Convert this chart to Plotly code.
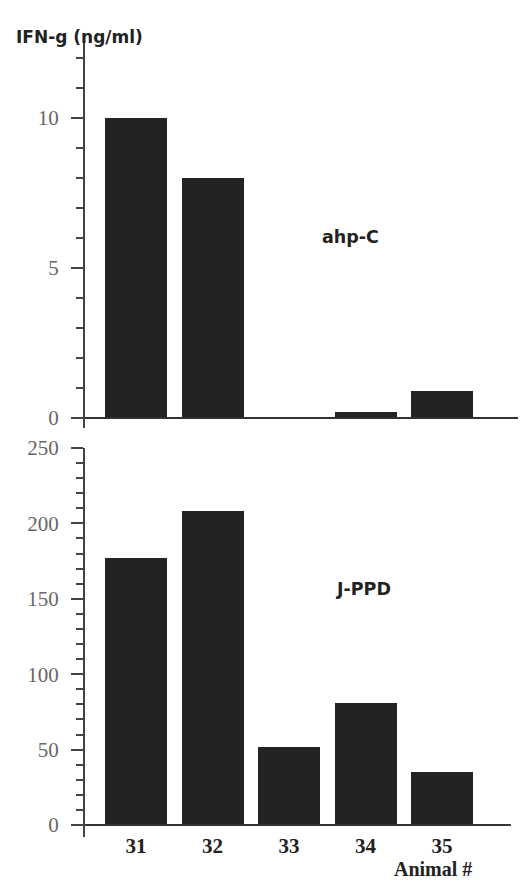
import plotly.graph_objects as go
from plotly.subplots import make_subplots

animals = [31, 32, 33, 34, 35]
tick_labels = ["31", "32", "33", "34", "35"]
ahp_c = [10.0, 8.0, 0.0, 0.2, 0.9]
j_ppd = [177, 208, 52, 81, 35]

W, H = 526, 882
ml, mr, mt, mb = 85, 8, 40, 45
ph = H - mt - mb

def fy(px):
    return (H - mb - px) / ph

fig = make_subplots(rows=2, cols=1, shared_xaxes=False, vertical_spacing=0.02)

bar_color = "#232323"
fig.add_trace(go.Bar(x=animals, y=ahp_c, width=0.81, marker=dict(color=bar_color, line=dict(width=0))), row=1, col=1)
fig.add_trace(go.Bar(x=animals, y=j_ppd, width=0.81, marker=dict(color=bar_color, line=dict(width=0))), row=2, col=1)

xr = [30.333, 35.993]
tickfont = dict(family="Liberation Serif", size=21, color="#666666")
axis_col = "#444444"

fig.update_layout(
    width=W, height=H, showlegend=False,
    margin=dict(l=ml, r=mr, t=mt, b=mb),
    paper_bgcolor="white", plot_bgcolor="white",
    bargap=0,
    xaxis=dict(domain=[0, 1], range=xr, showticklabels=False, showline=False, showgrid=False, zeroline=False, ticks=""),
    xaxis2=dict(domain=[0, 1], range=xr, tickvals=animals, ticktext=["<b>%s</b>" % t for t in tick_labels],
                showline=False, showgrid=False, zeroline=False, ticks="",
                anchor="free", position=fy(831),
                tickfont=dict(family="Liberation Serif", size=21, color="#222222"), ticklabelstandoff=0),
    yaxis=dict(domain=[fy(428), 1.0], range=[-0.333, 12.6], tick0=0, dtick=5, showgrid=False, zeroline=False,
               showline=True, linecolor=axis_col, linewidth=2, ticks="outside", ticklen=12, tickwidth=2,
               tickcolor=axis_col, tickfont=tickfont, ticklabelstandoff=8,
               minor=dict(tick0=0, dtick=1, ticks="outside", ticklen=7, tickwidth=1.5, tickcolor=axis_col)),
    yaxis2=dict(domain=[0, fy(448)], range=[-7.96, 250], tick0=0, dtick=50, showgrid=False,
                zeroline=False, showline=True, linecolor=axis_col, linewidth=2, ticks="outside", ticklen=12,
                tickwidth=2, tickcolor=axis_col, tickfont=tickfont, ticklabelstandoff=8,
                minor=dict(tick0=0, dtick=10, ticks="outside", ticklen=7, tickwidth=1.5, tickcolor=axis_col)),
)

# baseline (x axis) lines at y = 0
fig.add_shape(type="line", xref="x", yref="y", x0=xr[0], x1=xr[1], y0=0, y1=0,
              line=dict(color="#333333", width=2))
fig.add_shape(type="line", xref="x2", yref="y2", x0=xr[0], x1=35.9, y0=0, y1=0,
              line=dict(color="#333333", width=2))

lab_font = dict(family="DejaVu Sans", size=17.5, color="#222222")
fig.add_annotation(x=33.8, y=6.03, xref="x", yref="y", text="<b>ahp-C</b>", showarrow=False, font=lab_font)
fig.add_annotation(x=33.97, y=156.5, xref="x2", yref="y2", text="<b>J-PPD</b>", showarrow=False, font=lab_font)
fig.add_annotation(x=(14 - ml) / (W - ml - mr), y=fy(25), xref="paper", yref="paper", xanchor="left",
                   text="<b>IFN-g (ng/ml)</b>", showarrow=False,
                   font=dict(family="DejaVu Sans", size=17, color="#222222"))
fig.add_annotation(x=(433 - ml) / (W - ml - mr), y=fy(881), xref="paper", yref="paper",
                   xanchor="center", yanchor="bottom",
                   text="<b>Animal #</b>", showarrow=False, borderpad=0,
                   font=dict(family="Liberation Serif", size=20, color="#222222"))

fig.write_html("out.html", config={"displayModeBar": False},
               post_script="document.body.style.margin='0';")
